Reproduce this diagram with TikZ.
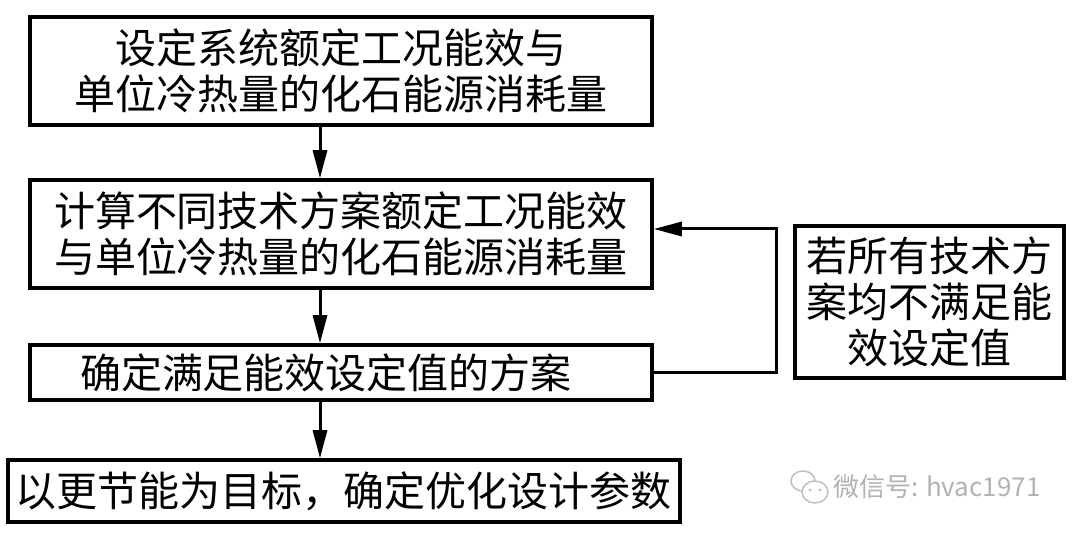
\documentclass[tikz,border=0pt]{standalone}
\usepackage{fontspec}
\newfontfamily\cjk{Noto Sans CJK SC}
\usetikzlibrary{arrows.meta,calc}
\begin{document}
\begin{tikzpicture}[x=1pt,y=1pt,
  box/.style={draw=black,line width=3.5pt,fill=white,inner sep=0pt,
    font=\cjk\fontsize{41}{46}\selectfont,align=center},
  arr/.style={line width=3pt,-{Triangle[length=28pt,width=14pt]}}]
\useasboundingbox[fill=white] (0,0) rectangle (1080,533);
\node[box,minimum width=622pt,minimum height=108pt] (b1) at (341,462)
  {设定系统额定工况能效与\\单位冷热量的化石能源消耗量};
\node[box,minimum width=622pt,minimum height=108pt] (b2) at (341,299)
  {计算不同技术方案额定工况能效\\与单位冷热量的化石能源消耗量};
\node[box,minimum height=55pt,text width=522pt,inner xsep=50pt,align=left] (b3) at (341,160.5)
  {确定满足能效设定值的方案};
\node[box,minimum width=672pt,minimum height=62pt] (b4) at (344,42)
  {以更节能为目标，确定优化设计参数};
\node[box,minimum width=269pt,minimum height=152pt] (b5) at (929.5,231)
  {若所有技术方\\案均不满足能\\效设定值};
\coordinate (ax) at (320,0);
\coordinate (c1) at (776,304);
\draw[arr] (b1.south -| ax) -- (b2.north -| ax);
\draw[arr] (b2.south -| ax) -- (b3.north -| ax);
\draw[arr] (b3.south -| ax) -- (b4.north -| ax);
\draw[arr] (b3.east) -| (c1) -- (c1 -| b2.east);
% watermark
\begin{scope}[draw=black!25,line width=1.5pt]
  \draw (803,52) ellipse (12pt and 10pt);
  \draw[fill=white] (815,41) ellipse (13pt and 11pt);
  \fill[black!25] (810,43) circle (1.6pt) (820,43) circle (1.6pt);
\end{scope}
\node[text=black!30,font=\cjk\fontsize{26}{30}\selectfont,anchor=west,inner sep=0pt] (wm) at (833,46)
  {微信号: hvac1971};
\end{tikzpicture}
\end{document}
